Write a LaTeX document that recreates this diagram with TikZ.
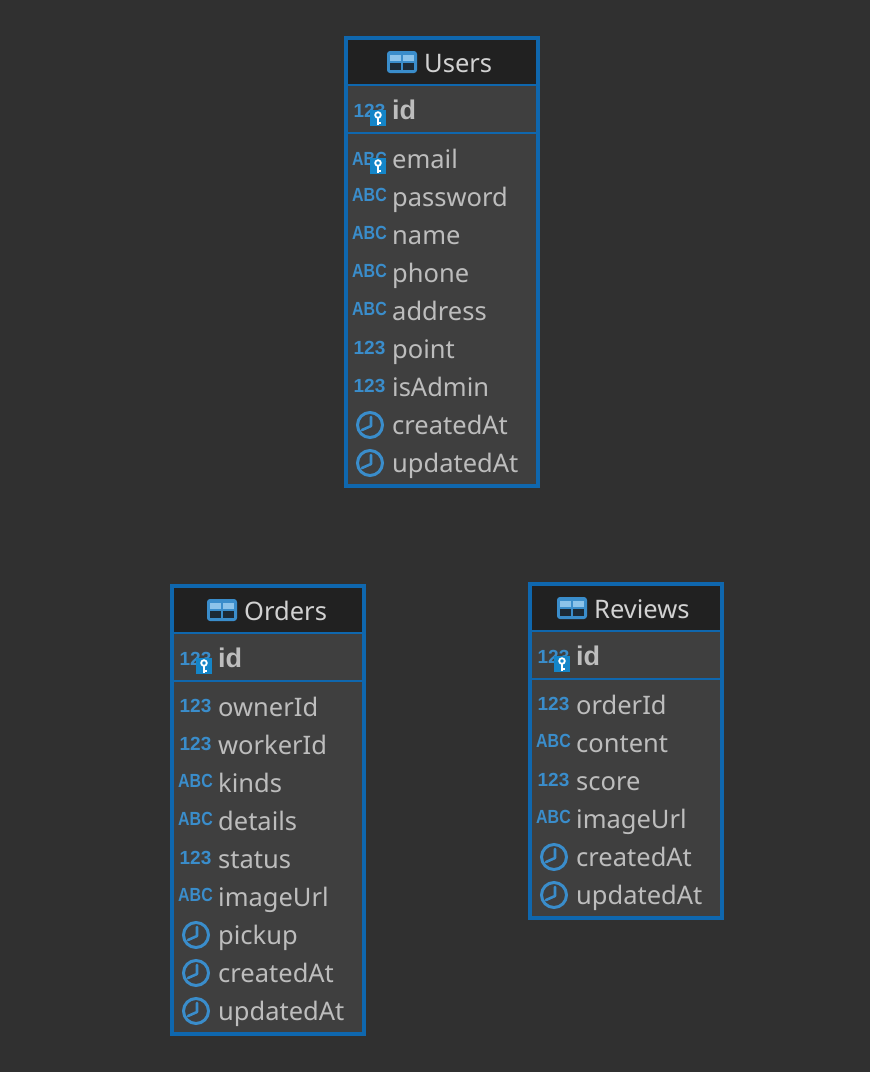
\documentclass[tikz,border=0pt]{standalone}
\usepackage{fontspec}
\setmainfont{Noto Sans}
\newfontfamily\heavyfont{Liberation Sans}[Scale=1.0]
\definecolor{canvas}{HTML}{303030}
\definecolor{rowfill}{HTML}{3F3F3F}
\definecolor{headfill}{HTML}{212121}
\definecolor{frameblue}{HTML}{0F67AE}
\definecolor{iconblue}{HTML}{3A8DCB}
\definecolor{iconlight}{HTML}{8CC3EA}
\definecolor{icondark}{HTML}{1C2A36}
\definecolor{badgeblue}{HTML}{1485C8}
\definecolor{fieldgray}{HTML}{BDBDBD}
\definecolor{headgray}{HTML}{D2D2D2}
\tikzset{
  tablebox/.style={draw=frameblue,line width=4pt,fill=rowfill},
  headbox/.style={fill=headfill},
  ruleline/.style={draw=frameblue,line width=2pt},
  tablename/.style={anchor=base west,inner sep=0pt,text=headgray,font=\fontsize{25.5}{25.5}\selectfont},
  fieldname/.style={anchor=base west,inner sep=0pt,text=fieldgray,font=\fontsize{25.5}{25.5}\selectfont},
  keyname/.style={fieldname,font=\heavyfont\fontsize{27}{27}\selectfont\bfseries},
  numtype/.style={anchor=base,inner sep=0pt,text=iconblue,font=\heavyfont\fontsize{19}{19}\selectfont\bfseries},
  abctype/.style={numtype,xscale=.84},
  pics/tableicon/.style={code={
    \fill[iconblue,rounded corners=3pt] (-15,-11) rectangle (15,11);
    \fill[iconlight] (-12,-7) rectangle (-1,-1);
    \fill[iconlight] (1,-7) rectangle (12,-1);
    \fill[icondark] (-12,1) rectangle (-1,8);
    \fill[icondark] (1,1) rectangle (12,8);
  }},
  pics/clockicon/.style={code={
    \draw[iconblue,line width=3pt] (0,0) circle (12.5);
    \draw[iconblue,line width=2.6pt,line cap=round,line join=round] (1,-8) -- (1,1) -- (-8,5);
  }},
  pics/keybadge/.style={code={
    \fill[badgeblue] (-8,-8) rectangle (8,8);
    \draw[white,line width=1.8pt] (0,-3) circle (2.8);
    \draw[white,line width=1.8pt] (0,0) -- (0,7);
    \draw[white,line width=1.4pt] (0,5) -- (2.5,5);
  }},
}
\begin{document}
\begin{tikzpicture}[x=1pt,y=-1pt]
\useasboundingbox[fill=canvas] (0,0) rectangle (870,1072);

% Users
\path[tablebox] (346,38) rectangle (538,486);
\path[headbox] (348,40) rectangle (536,85);
\path[ruleline] (346,85) -- (538,85);
\path[ruleline] (346,133) -- (538,133);
\pic at (402,62) {tableicon};
\node[tablename] (users) at (424,72) {Users};
\node[numtype] (uidtype) at (369.5,117) {123};
\pic at (378,118) {keybadge};
\node[keyname] (uid) at (392,119) {id};
\node[abctype] (uemailtype) at (369.5,165) {ABC};
\pic at (378,166) {keybadge};
\node[fieldname] (uemail) at (392,168) {email};
\node[abctype] (upasswordtype) at (369.5,201) {ABC};
\node[fieldname] (upassword) at (392,206) {password};
\node[abctype] (unametype) at (369.5,239) {ABC};
\node[fieldname] (uname) at (392,244) {name};
\node[abctype] (uphonetype) at (369.5,277) {ABC};
\node[fieldname] (uphone) at (392,282) {phone};
\node[abctype] (uaddresstype) at (369.5,315) {ABC};
\node[fieldname] (uaddress) at (392,320) {address};
\node[numtype] (upointtype) at (369.5,354) {123};
\node[fieldname] (upoint) at (392,358) {point};
\node[numtype] (uisadmintype) at (369.5,392) {123};
\node[fieldname] (uisadmin) at (392,396) {isAdmin};
\pic at (370,425) {clockicon};
\node[fieldname] (ucreated) at (392,434) {createdAt};
\pic at (370,463) {clockicon};
\node[fieldname] (uupdated) at (392,472) {updatedAt};

% Orders
\path[tablebox] (172,586) rectangle (364,1034);
\path[headbox] (174,588) rectangle (362,633);
\path[ruleline] (172,633) -- (364,633);
\path[ruleline] (172,681) -- (364,681);
\pic at (222,610) {tableicon};
\node[tablename] (orders) at (244,620) {Orders};
\node[numtype] (oidtype) at (195.5,665) {123};
\pic at (204,666) {keybadge};
\node[keyname] (oid) at (218,667) {id};
\node[numtype] (oownertype) at (195.5,712) {123};
\node[fieldname] (oowner) at (218,716) {ownerId};
\node[numtype] (oworkertype) at (195.5,750) {123};
\node[fieldname] (oworker) at (218,754) {workerId};
\node[abctype] (okindstype) at (195.5,787) {ABC};
\node[fieldname] (okinds) at (218,792) {kinds};
\node[abctype] (odetailstype) at (195.5,825) {ABC};
\node[fieldname] (odetails) at (218,830) {details};
\node[numtype] (ostatustype) at (195.5,864) {123};
\node[fieldname] (ostatus) at (218,868) {status};
\node[abctype] (oimagetype) at (195.5,901) {ABC};
\node[fieldname] (oimage) at (218,906) {imageUrl};
\pic at (196,935) {clockicon};
\node[fieldname] (opickup) at (218,944) {pickup};
\pic at (196,973) {clockicon};
\node[fieldname] (ocreated) at (218,982) {createdAt};
\pic at (196,1011) {clockicon};
\node[fieldname] (oupdated) at (218,1020) {updatedAt};

% Reviews
\path[tablebox] (530,584) rectangle (722,918);
\path[headbox] (532,586) rectangle (720,631);
\path[ruleline] (530,631) -- (722,631);
\path[ruleline] (530,679) -- (722,679);
\pic at (572,608) {tableicon};
\node[tablename] (reviews) at (594,618) {Reviews};
\node[numtype] (ridtype) at (553.5,663) {123};
\pic at (562,664) {keybadge};
\node[keyname] (rid) at (576,665) {id};
\node[numtype] (rordertype) at (553.5,710) {123};
\node[fieldname] (rorder) at (576,714) {orderId};
\node[abctype] (rcontenttype) at (553.5,747) {ABC};
\node[fieldname] (rcontent) at (576,752) {content};
\node[numtype] (rscoretype) at (553.5,786) {123};
\node[fieldname] (rscore) at (576,790) {score};
\node[abctype] (rimagetype) at (553.5,823) {ABC};
\node[fieldname] (rimage) at (576,828) {imageUrl};
\pic at (554,857) {clockicon};
\node[fieldname] (rcreated) at (576,866) {createdAt};
\pic at (554,895) {clockicon};
\node[fieldname] (rupdated) at (576,904) {updatedAt};
\end{tikzpicture}
\end{document}
